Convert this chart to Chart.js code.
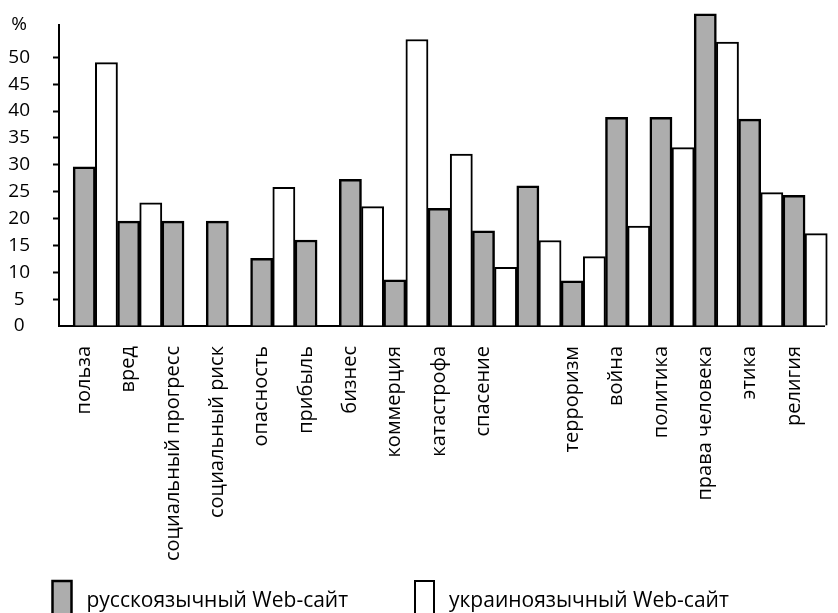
<!DOCTYPE html>
<html>
<head>
<meta charset="utf-8">
<script src="https://cdn.jsdelivr.net/npm/chart.js@4/dist/chart.umd.min.js"></script>
<style>
  html, body { margin: 0; padding: 0; background: #fff; overflow: hidden; }
  #wrap { width: 838px; height: 613px; position: relative; }
</style>
</head>
<body>
<div id="wrap"><canvas id="chart"></canvas></div>
<script>
// ------------------------------------------------------------
// Data
// ------------------------------------------------------------
const categories = [
  'польза', 'вред', 'социальный прогресс', 'социальный риск', 'опасность',
  'прибыль', 'бизнес', 'коммерция', 'катастрофа', 'спасение', '',
  'терроризм', 'война', 'политика', 'права человека', 'этика', 'религия'
];
const ruSite = [29.6, 19.5, 19.5, 19.5, 12.6, 16.0, 27.3, 8.6, 21.9, 17.7, 26.1, 8.4, 38.8, 38.8, 58.1, 38.5, 24.3];
const uaSite = [49.0, 22.9, null, null, 25.8, null, 22.2, 53.3, 32.0, 10.9, 15.9, 12.9, 18.6, 33.2, 52.8, 24.8, 17.2];
const seriesNames = ['русскоязычный Web-сайт', 'украиноязычный Web-сайт'];
const yTicks = [0, 5, 10, 15, 20, 25, 30, 35, 40, 45, 50];
const yTop = 56;

const FONT = "'Open Sans', sans-serif";
Chart.defaults.font.family = FONT;
Chart.defaults.font.size = 20;
Chart.defaults.color = '#000';

// legend drawn by hand at the bottom, as in the source picture
const bottomLegend = {
  id: 'bottomLegend',
  afterDraw(chart, args, opts) {
    const ctx = chart.ctx;
    ctx.save();
    chart.data.datasets.forEach((ds, i) => {
      const x = opts.xs[i];
      ctx.fillStyle = ds.backgroundColor;
      ctx.fillRect(x, opts.y, 19, 36);
      ctx.lineWidth = ds.borderWidth;
      ctx.strokeStyle = '#000';
      ctx.strokeRect(x, opts.y, 19, 36);
      ctx.fillStyle = '#000';
      ctx.font = '21px ' + FONT;
      ctx.textBaseline = 'alphabetic';
      ctx.fillText(ds.label, x + 34, opts.y + 26);
    });
    ctx.restore();
  }
};

new Chart(document.getElementById('chart'), {
  type: 'bar',
  data: {
    datasets: [
      {
        label: seriesNames[0],
        data: ruSite.map((v, i) => ({ x: i, y: v })),
        backgroundColor: '#adadad', borderColor: '#000', borderWidth: 2.5
      },
      {
        label: seriesNames[1],
        data: uaSite.map((v, i) => ({ x: i + 0.5, y: v })),
        backgroundColor: '#fff', borderColor: '#000', borderWidth: 2
      }
    ]
  },
  options: {
    responsive: true,
    maintainAspectRatio: false,
    animation: false,
    clip: false,
    grouped: false,
    barPercentage: 1,
    categoryPercentage: 1,
    layout: { padding: { top: 25, left: 0, right: 0, bottom: 0 } },
    plugins: {
      legend: { display: false },
      tooltip: { enabled: false },
      bottomLegend: { xs: [52.5, 415], y: 581 }
    },
    scales: {
      x: {
        type: 'linear',
        offset: false,
        min: -0.569,
        max: 16.69,
        afterFit: s => { s.height = 287; },
        grid: { display: false, drawTicks: false },
        border: { display: true, color: '#000', width: 2 },
        ticks: {
          stepSize: 1,
          includeBounds: false,
          autoSkip: false,
          minRotation: 90,
          maxRotation: 90,
          padding: 20,
          callback: v => Number.isInteger(v) ? (categories[v] || '') : ''
        }
      },
      y: {
        min: 0,
        max: yTop,
        afterFit: s => { s.width = 59; s.paddingTop = 0; },
        afterBuildTicks: s => { s.ticks = yTicks.concat([yTop]).map(v => ({ value: v })); },
        grid: {
          drawOnChartArea: false,
          drawTicks: true,
          tickLength: 6,
          tickWidth: 2,
          tickColor: c => (c.tick && (c.tick.value === yTop || c.tick.value === 0)) ? 'rgba(0,0,0,0)' : '#000'
        },
        border: { display: true, color: '#000', width: 2 },
        ticks: {
          font: { size: 19 },
          crossAlign: 'center',
          padding: 23,
          callback: v => v === yTop ? '%' : String(v)
        }
      }
    }
  },
  plugins: [bottomLegend]
});
</script>
</body>
</html>
